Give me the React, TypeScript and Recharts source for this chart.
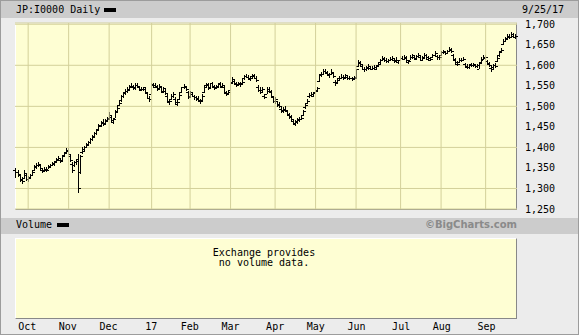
import { ComposedChart, Bar, Line, XAxis, YAxis, CartesianGrid, ReferenceLine } from "recharts";

// trading calendar, 9/23/16 .. 9/25/17
const months = [
  "2016-09", "2016-10", "2016-11", "2016-12", "2017-01", "2017-02", "2017-03",
  "2017-04", "2017-05", "2017-06", "2017-07", "2017-08", "2017-09",
];
const monthDays = [
  [23, 26, 27, 28, 29, 30],
  [3, 4, 5, 6, 7, 11, 12, 13, 14, 17, 18, 19, 20, 21, 24, 25, 26, 27, 28, 31],
  [1, 2, 4, 7, 8, 9, 10, 11, 14, 15, 16, 17, 18, 21, 22, 24, 25, 28, 29, 30],
  [1, 2, 5, 6, 7, 8, 9, 12, 13, 14, 15, 16, 19, 20, 21, 22, 26, 27, 28, 29, 30],
  [4, 5, 6, 10, 11, 12, 13, 16, 17, 18, 19, 20, 23, 24, 25, 26, 27, 30, 31],
  [1, 2, 3, 6, 7, 8, 9, 10, 13, 14, 15, 16, 17, 20, 21, 22, 23, 24, 27, 28],
  [1, 2, 3, 6, 7, 8, 9, 10, 13, 14, 15, 16, 17, 21, 22, 23, 24, 27, 28, 29, 30, 31],
  [3, 4, 5, 6, 7, 10, 11, 12, 13, 14, 17, 18, 19, 20, 21, 24, 25, 26, 27, 28],
  [1, 2, 8, 9, 10, 11, 12, 15, 16, 17, 18, 19, 22, 23, 24, 25, 26, 29, 30, 31],
  [1, 2, 5, 6, 7, 8, 9, 12, 13, 14, 15, 16, 19, 20, 21, 22, 23, 26, 27, 28, 29, 30],
  [3, 4, 5, 6, 7, 10, 11, 12, 13, 14, 18, 19, 20, 21, 24, 25, 26, 27, 28, 31],
  [1, 2, 3, 4, 7, 8, 9, 10, 14, 15, 16, 17, 18, 21, 22, 23, 24, 25, 28, 29, 30, 31],
  [1, 4, 5, 6, 7, 8, 11, 12, 13, 14, 15, 19, 20, 21, 22, 25],
];
const monthLabels = ["Oct", "Nov", "Dec", "17", "Feb", "Mar", "Apr", "May", "Jun", "Jul", "Aug", "Sep"];
const priceTicks = [1250, 1300, 1350, 1400, 1450, 1500, 1550, 1600, 1650, 1700];

// one line per month
const opens = [
  1344, 1340, 1332, 1320, 1326, 1334,
  1322, 1328, 1334, 1344, 1354, 1358, 1356, 1346, 1344, 1346, 1348, 1352, 1358, 1362, 1366, 1372, 1370, 1370, 1382, 1388,
  1392, 1378, 1360, 1356, 1364, 1372, 1340, 1388, 1392, 1402, 1408, 1414, 1420, 1428, 1436, 1446, 1454, 1462, 1460, 1466,
  1472, 1474, 1462, 1472, 1488, 1504, 1516, 1526, 1534, 1538, 1542, 1550, 1548, 1544, 1552, 1548, 1540, 1542, 1542, 1532, 1520,
  1530, 1552, 1548, 1546, 1544, 1546, 1538, 1538, 1526, 1510, 1518, 1526, 1518, 1506, 1518, 1536, 1546, 1546, 1536,
  1524, 1530, 1524, 1522, 1518, 1512, 1516, 1536, 1552, 1552, 1546, 1556, 1546, 1546, 1550, 1554, 1548, 1546, 1532, 1532,
  1540, 1560, 1562, 1554, 1554, 1554, 1556, 1568, 1574, 1572, 1566, 1574, 1574, 1568, 1548, 1540, 1540, 1526, 1530, 1538, 1534, 1522,
  1514, 1512, 1506, 1494, 1490, 1494, 1488, 1478, 1474, 1464, 1458, 1464, 1468, 1468, 1480, 1498, 1508, 1524, 1528, 1526,
  1534, 1540, 1562, 1578, 1580, 1586, 1582, 1576, 1580, 1582, 1560, 1560, 1568, 1570, 1572, 1572, 1572, 1568, 1568, 1568,
  1572, 1598, 1606, 1598, 1590, 1592, 1596, 1594, 1592, 1594, 1592, 1600, 1608, 1614, 1616, 1612, 1610, 1614, 1616, 1612, 1614, 1608,
  1614, 1618, 1616, 1618, 1608, 1614, 1620, 1620, 1618, 1622, 1620, 1614, 1620, 1624, 1616, 1614, 1620, 1626, 1622, 1620,
  1624, 1632, 1632, 1630, 1636, 1638, 1626, 1614, 1604, 1608, 1612, 1614, 1604, 1596, 1596, 1602, 1600, 1600, 1598, 1592, 1608, 1614,
  1618, 1610, 1604, 1594, 1596, 1600, 1610, 1624, 1634, 1652, 1660, 1666, 1670, 1670, 1672, 1668,
];
const highs = [
  1350, 1346, 1336, 1328, 1344, 1336,
  1330, 1336, 1344, 1356, 1362, 1364, 1360, 1350, 1352, 1352, 1356, 1360, 1364, 1368, 1374, 1378, 1374, 1380, 1390, 1398,
  1398, 1382, 1364, 1368, 1372, 1384, 1382, 1400, 1404, 1410, 1416, 1424, 1430, 1438, 1446, 1456, 1464, 1470, 1468, 1474,
  1486, 1480, 1472, 1490, 1500, 1512, 1528, 1536, 1542, 1546, 1552, 1556, 1552, 1556, 1558, 1550, 1546, 1548, 1546, 1534, 1526,
  1556, 1558, 1556, 1552, 1554, 1550, 1548, 1542, 1530, 1518, 1530, 1534, 1522, 1516, 1532, 1548, 1554, 1550, 1538,
  1538, 1534, 1528, 1526, 1524, 1518, 1530, 1550, 1558, 1556, 1558, 1560, 1552, 1552, 1558, 1560, 1556, 1550, 1538, 1540,
  1560, 1572, 1566, 1560, 1560, 1560, 1566, 1576, 1578, 1576, 1572, 1580, 1578, 1574, 1552, 1546, 1546, 1530, 1546, 1546, 1540, 1526,
  1522, 1514, 1510, 1498, 1498, 1500, 1492, 1484, 1478, 1468, 1466, 1472, 1474, 1478, 1492, 1508, 1518, 1532, 1534, 1536,
  1542, 1548, 1580, 1584, 1590, 1592, 1586, 1582, 1590, 1584, 1564, 1568, 1574, 1578, 1576, 1580, 1576, 1574, 1572, 1574,
  1592, 1612, 1610, 1600, 1596, 1598, 1604, 1598, 1598, 1600, 1600, 1608, 1616, 1622, 1620, 1618, 1616, 1620, 1622, 1616, 1620, 1614,
  1622, 1622, 1624, 1622, 1614, 1624, 1628, 1624, 1626, 1630, 1624, 1622, 1630, 1628, 1622, 1620, 1628, 1634, 1626, 1626,
  1634, 1638, 1636, 1638, 1644, 1642, 1628, 1618, 1610, 1618, 1618, 1620, 1606, 1602, 1604, 1606, 1606, 1604, 1604, 1608, 1620, 1624,
  1624, 1614, 1608, 1598, 1604, 1606, 1622, 1636, 1642, 1664, 1668, 1676, 1676, 1680, 1678, 1676,
];
const lows = [
  1326, 1330, 1316, 1312, 1322, 1318,
  1316, 1324, 1330, 1342, 1348, 1352, 1346, 1338, 1340, 1340, 1346, 1350, 1354, 1356, 1362, 1366, 1362, 1368, 1378, 1384,
  1380, 1366, 1336, 1354, 1358, 1290, 1336, 1384, 1390, 1398, 1404, 1410, 1416, 1424, 1432, 1442, 1450, 1454, 1456, 1462,
  1470, 1462, 1458, 1470, 1484, 1500, 1512, 1522, 1528, 1532, 1538, 1544, 1540, 1540, 1546, 1538, 1536, 1538, 1532, 1516, 1512,
  1528, 1546, 1544, 1538, 1540, 1532, 1534, 1528, 1510, 1504, 1516, 1520, 1506, 1502, 1516, 1534, 1542, 1538, 1518,
  1520, 1522, 1516, 1514, 1510, 1506, 1514, 1534, 1546, 1540, 1544, 1546, 1540, 1542, 1546, 1546, 1544, 1532, 1526, 1528,
  1538, 1558, 1554, 1548, 1550, 1548, 1552, 1564, 1568, 1564, 1562, 1570, 1566, 1560, 1536, 1528, 1534, 1518, 1528, 1534, 1522, 1508,
  1506, 1500, 1496, 1484, 1484, 1486, 1478, 1470, 1464, 1456, 1452, 1458, 1462, 1466, 1478, 1494, 1506, 1520, 1522, 1524,
  1530, 1536, 1560, 1572, 1576, 1580, 1574, 1570, 1576, 1570, 1550, 1556, 1562, 1566, 1564, 1568, 1564, 1564, 1562, 1564,
  1570, 1596, 1598, 1588, 1584, 1586, 1590, 1588, 1588, 1590, 1588, 1596, 1604, 1610, 1608, 1606, 1606, 1610, 1612, 1606, 1608, 1604,
  1610, 1612, 1612, 1608, 1604, 1612, 1616, 1612, 1614, 1618, 1610, 1610, 1618, 1616, 1612, 1610, 1618, 1622, 1614, 1614,
  1622, 1628, 1626, 1628, 1632, 1630, 1612, 1604, 1598, 1606, 1608, 1610, 1594, 1590, 1592, 1596, 1596, 1594, 1594, 1590, 1606, 1612,
  1612, 1602, 1596, 1584, 1592, 1594, 1608, 1622, 1630, 1650, 1656, 1662, 1664, 1668, 1666, 1664,
];
const closes = [
  1340, 1336, 1322, 1318, 1338, 1322,
  1326, 1332, 1340, 1352, 1356, 1360, 1350, 1342, 1348, 1344, 1354, 1356, 1360, 1364, 1370, 1374, 1366, 1378, 1386, 1394,
  1384, 1370, 1344, 1364, 1368, 1302, 1378, 1396, 1400, 1406, 1412, 1420, 1426, 1434, 1442, 1452, 1460, 1458, 1464, 1470,
  1480, 1466, 1468, 1486, 1496, 1508, 1524, 1532, 1538, 1540, 1548, 1550, 1546, 1552, 1550, 1542, 1542, 1546, 1536, 1520, 1518,
  1554, 1552, 1550, 1542, 1550, 1536, 1544, 1532, 1514, 1512, 1526, 1530, 1510, 1510, 1528, 1546, 1550, 1542, 1522,
  1534, 1526, 1522, 1520, 1516, 1512, 1526, 1546, 1554, 1544, 1556, 1550, 1544, 1548, 1556, 1550, 1552, 1536, 1530, 1536,
  1556, 1566, 1558, 1552, 1556, 1554, 1560, 1574, 1572, 1568, 1568, 1576, 1570, 1564, 1540, 1536, 1542, 1522, 1542, 1538, 1526, 1512,
  1518, 1504, 1500, 1488, 1490, 1492, 1482, 1476, 1468, 1460, 1462, 1466, 1470, 1472, 1488, 1504, 1514, 1528, 1530, 1532,
  1538, 1544, 1576, 1578, 1586, 1584, 1580, 1578, 1584, 1574, 1556, 1564, 1570, 1572, 1568, 1576, 1568, 1570, 1566, 1570,
  1590, 1608, 1602, 1592, 1592, 1594, 1598, 1592, 1594, 1596, 1598, 1604, 1612, 1618, 1612, 1610, 1612, 1616, 1618, 1610, 1614, 1612,
  1618, 1616, 1620, 1612, 1610, 1620, 1624, 1616, 1622, 1626, 1614, 1618, 1626, 1620, 1618, 1616, 1624, 1630, 1620, 1620,
  1632, 1634, 1630, 1636, 1640, 1634, 1616, 1608, 1602, 1614, 1612, 1616, 1598, 1596, 1600, 1600, 1602, 1598, 1600, 1606, 1616, 1620,
  1620, 1606, 1600, 1590, 1600, 1598, 1618, 1632, 1638, 1660, 1664, 1672, 1668, 1676, 1670, 1672,
];

const pad = (d: number) => String(d).padStart(2, "0");
const dates = months.flatMap((m, k) => monthDays[k].map((d) => `${m}-${pad(d)}`));
const monthStarts = months.slice(1).map((m, k) => `${m}-${pad(monthDays[k + 1][0])}`);

const data = dates.map((date, i) => ({
  date,
  open: opens[i],
  high: highs[i],
  low: lows[i],
  close: closes[i],
  range: [lows[i], highs[i]],
}));

const MONO = "'DejaVu Sans Mono', monospace";
const GRID = "#d3d09a";
const PANEL = "#fefed3";

// open tick left, close tick right
const OhlcBar = (props: any) => {
  const { x, y, width, height, payload } = props;
  if (!payload || payload.high == null || y == null) return null;
  const top = Math.min(y, y + height);
  const h = Math.abs(height);
  const span = payload.high - payload.low || 1;
  const cx = Math.floor(x + width / 2);
  const yo = top + ((payload.high - payload.open) / span) * h;
  const yc = top + ((payload.high - payload.close) / span) * h;
  return (
    <g>
      <rect x={cx} y={Math.round(top)} width={1} height={Math.max(1, Math.round(h))} fill="#000" />
      <rect x={cx - 2} y={Math.round(yo)} width={2} height={1} fill="#000" />
      <rect x={cx + 1} y={Math.round(yc)} width={2} height={1} fill="#000" />
    </g>
  );
};

const abs = (left: number, top: number, width: number, height: number, extra: any = {}) => ({
  position: "absolute" as const,
  left,
  top,
  width,
  height,
  ...extra,
});

export default function App() {
  return (
    <div style={abs(0, 0, 579, 335, { background: "#ececec", border: "1px solid #9c9c9c", boxSizing: "border-box", overflow: "hidden" })}>
      {/* title bar */}
      <div style={abs(0, 0, 579, 17, { background: "#cccccc" })} />
      <div style={abs(15, 3, 120, 12, { font: `10px ${MONO}`, color: "#000", lineHeight: "12px", whiteSpace: "pre" })}>
        JP:I0000 Daily
      </div>
      <div style={abs(103, 7, 12, 4, { background: "#000" })} />
      <div style={abs(521, 3, 50, 12, { font: `10px ${MONO}`, color: "#000", lineHeight: "12px" })}>9/25/17</div>

      {/* price panel */}
      <div style={abs(14, 22, 502, 187, { background: PANEL, borderTop: "1px solid #fff", borderLeft: "1px solid #fff", borderRight: "1px solid #888", borderBottom: "1px solid #888", boxSizing: "border-box" })} />

      {/* volume header */}
      <div style={abs(0, 217, 579, 16, { background: "#cccccc" })} />
      <div style={abs(15, 218, 60, 12, { font: `10px ${MONO}`, color: "#000", lineHeight: "12px" })}>Volume</div>
      <div style={abs(56, 222, 12, 4, { background: "#000" })} />
      <div style={abs(416, 218, 100, 12, { font: "bold 10px 'DejaVu Sans', sans-serif", color: "#8a8a8a", lineHeight: "12px", textAlign: "right" })}>
        ©BigCharts.com
      </div>
      <div style={abs(14, 237, 502, 81, { background: PANEL, borderTop: "1px solid #fff", borderLeft: "1px solid #fff", borderRight: "1px solid #888", borderBottom: "1px solid #888", boxSizing: "border-box" })} />

      <div style={abs(0, 0, 579, 216)}>
        <ComposedChart width={579} height={216} data={data} margin={{ top: 22, right: 3, bottom: 8, left: 14 }} barCategoryGap={0}>
          <CartesianGrid vertical={false} stroke={GRID} />
          {monthStarts.map((d) => (
            <ReferenceLine key={d} x={d} stroke={GRID} />
          ))}
          <XAxis dataKey="date" hide />
          <YAxis
            orientation="right"
            width={60}
            domain={[1250, 1703]}
            allowDataOverflow
            ticks={priceTicks}
            tickFormatter={(v: number) => v.toLocaleString("en-US")}
            tick={{ fill: "#000", fontSize: 10, fontFamily: "DejaVu Sans Mono" }}
            tickLine={false}
            axisLine={false}
            tickSize={6}
            tickMargin={2}
          />
          <Bar dataKey="range" shape={(p: any) => <OhlcBar {...p} />} isAnimationActive={false} />
        </ComposedChart>
      </div>

      <div style={abs(0, 230, 579, 105)}>
        <ComposedChart width={579} height={105} data={data} margin={{ top: 8, right: 63, bottom: 0, left: 14 }}>
          {monthStarts.map((d) => (
            <ReferenceLine key={d} x={d} stroke={GRID} />
          ))}
          <XAxis
            dataKey="date"
            ticks={monthStarts}
            interval={0}
            height={18}
            tickFormatter={(v: string) => monthLabels[monthStarts.indexOf(v)] ?? ""}
            tick={{ fill: "#000", fontSize: 10, fontFamily: "DejaVu Sans Mono" }}
            tickLine={false}
            axisLine={false}
            tickSize={0}
            tickMargin={5}
          />
          <YAxis hide domain={[0, 1]} />
          <Line dataKey="volume" stroke="none" dot={false} isAnimationActive={false} />
        </ComposedChart>
      </div>

      <div style={abs(180, 247, 166, 22, { font: `10px ${MONO}`, color: "#000", lineHeight: "10px", textAlign: "center", whiteSpace: "pre" })}>
        {"Exchange provides\nno volume data."}
      </div>
    </div>
  );
}
